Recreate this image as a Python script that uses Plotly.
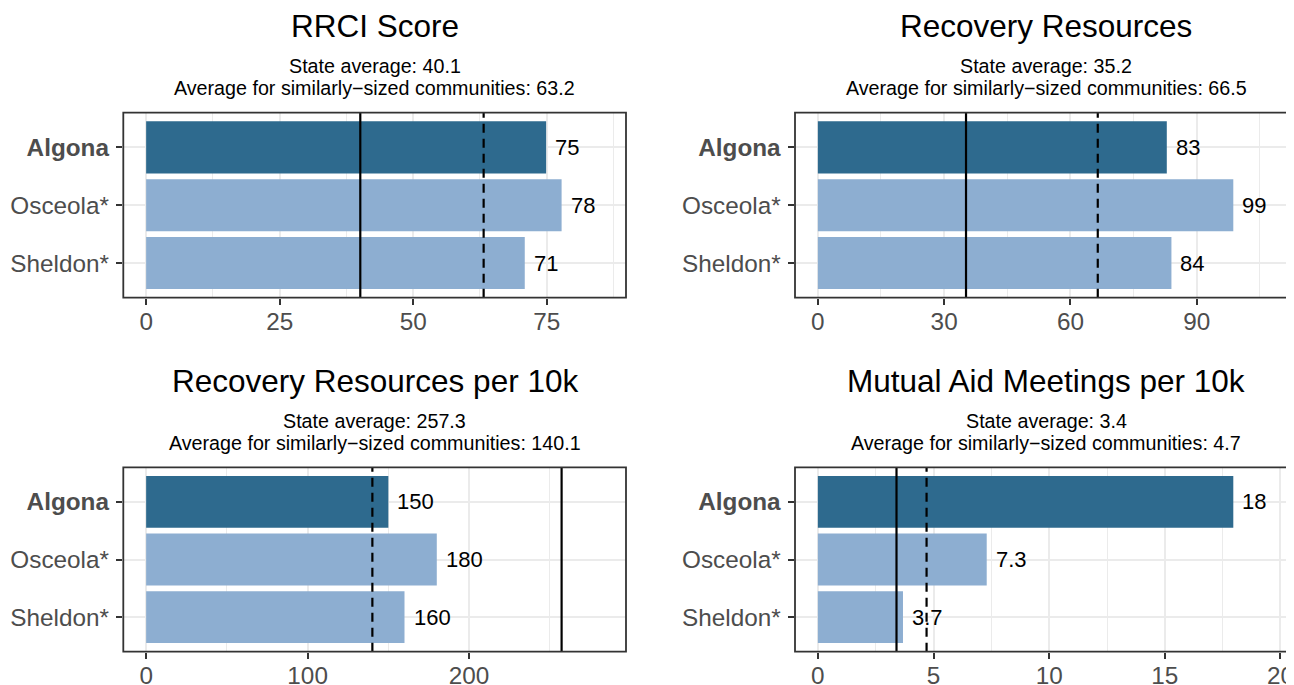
import math
import plotly.graph_objects as go

# ---------------- data ----------------
communities = ["Algona", "Osceola*", "Sheldon*"]
highlight = "Algona"
panel_titles = ["RRCI Score", "Recovery Resources",
                "Recovery Resources per 10k", "Mutual Aid Meetings per 10k"]
rrci_score = [74.9, 77.8, 70.9]
recovery_resources = [82.9, 98.7, 84.0]
resources_per_10k = [150, 180, 160]
meetings_per_10k = [17.96, 7.3, 3.68]
state_avg = [40.1, 35.2, 257.3, 3.4]
similar_avg = [63.2, 66.5, 140.1, 4.7]
x_tick_step = [25, 30, 100, 5]

panel_values = [rrci_score, recovery_resources, resources_per_10k, meetings_per_10k]

# ---------------- style / layout ----------------
W, H = 1294, 685
OFF = 8  # the page body has an 8px margin; positions below are window pixels
FONT = "Liberation Sans, Arial, Helvetica, sans-serif"
DARK = "#2E6A8E"
LIGHT = "#8DAED1"
GRID = "#EBEBEB"
AXC = "#333333"
TXT = "#4D4D4D"

col_left = [123.3, 795.0]
panel_w = 502.7
row_top = [112.7, 467.3]
row_h = [185.0, 184.4]


def signif_label(v, digits=2):
    if v == 0:
        return "0"
    p = digits - 1 - int(math.floor(math.log10(abs(v))))
    r = round(v, p)
    if float(r).is_integer():
        return str(int(r))
    return f"{r:.{max(p, 0)}f}"


fig = go.Figure()
layout = dict(
    width=W, height=H, autosize=False,
    margin=dict(l=0, r=0, t=0, b=0),
    paper_bgcolor="white", plot_bgcolor="white",
    showlegend=False, font=dict(family=FONT),
)
annotations = []
shapes = []

n = len(communities)
ypos = [n - 1 - i for i in range(n)]

for k in range(4):
    r, c = divmod(k, 2)
    idx = "" if k == 0 else str(k + 1)
    xa, ya = "x" + idx, "y" + idx
    vals = panel_values[k]

    left = col_left[c] - OFF
    vis_right = min(left + panel_w, W)
    vis_w = vis_right - left
    top = row_top[r] - OFF
    bottom = top + row_h[r]

    L = 1.1 * max(vals + [state_avg[k], similar_avg[k]])
    lo, hi_full = -0.05 * L, 1.05 * L
    hi = lo + (hi_full - lo) * (vis_w / panel_w)

    fig.add_trace(go.Bar(
        x=vals, y=ypos, orientation="h", width=0.9,
        marker=dict(color=[DARK if cname == highlight else LIGHT for cname in communities],
                    line=dict(width=0)),
        xaxis=xa, yaxis=ya, hoverinfo="skip",
    ))

    step = x_tick_step[k]
    layout["xaxis" + idx] = dict(
        domain=[left / W, vis_right / W], anchor=ya,
        range=[lo, hi], tick0=0, dtick=step,
        showgrid=True, gridcolor=GRID, gridwidth=1.7,
        minor=dict(showgrid=True, gridcolor=GRID, gridwidth=0.9, dtick=step / 2, tick0=0),
        zeroline=False, showline=False,
        ticks="outside", ticklen=6.5, tickwidth=2, tickcolor=AXC,
        ticklabelstandoff=-4,
        tickfont=dict(size=24.3, color=TXT, family=FONT),
        fixedrange=True,
    )
    layout["yaxis" + idx] = dict(
        domain=[1 - bottom / H, 1 - top / H], anchor=xa,
        range=[-0.6, n - 0.4],
        tickmode="array", tickvals=ypos,
        ticktext=[f"<b>{cname}</b>" if cname == highlight else cname for cname in communities],
        showgrid=True, gridcolor=GRID, gridwidth=1.7,
        zeroline=False, showline=False,
        ticks="outside", ticklen=6.5, tickwidth=2, tickcolor=AXC,
        ticklabelstandoff=2,
        tickfont=dict(size=24.3, color=TXT, family=FONT),
        fixedrange=True,
    )

    # value labels
    for v, y in zip(vals, ypos):
        annotations.append(dict(
            x=v, y=y, xref=xa, yref=ya, text=signif_label(v),
            xanchor="left", yanchor="middle", xshift=7, showarrow=False,
            font=dict(size=22, color="black", family=FONT),
        ))

    # reference lines
    shapes.append(dict(type="line", xref=xa, yref=ya + " domain",
                       x0=state_avg[k], x1=state_avg[k], y0=0, y1=1,
                       line=dict(color="black", width=2.2), layer="above"))
    shapes.append(dict(type="line", xref=xa, yref=ya + " domain",
                       x0=similar_avg[k], x1=similar_avg[k], y0=0, y1=1,
                       line=dict(color="black", width=2.2, dash="9px,6px"), layer="above"))
    # panel border
    shapes.append(dict(type="rect", xref=xa + " domain", yref=ya + " domain",
                       x0=0, x1=panel_w / vis_w, y0=0, y1=1,
                       line=dict(color=AXC, width=1.8), fillcolor="rgba(0,0,0,0)", layer="above"))

    # titles
    cx = (left + panel_w / 2) / W
    title_base = top - 75.4
    annotations.append(dict(
        x=cx, y=1 - (title_base - 11.0) / H, xref="paper", yref="paper",
        text=panel_titles[k], showarrow=False, xanchor="center", yanchor="middle",
        font=dict(size=31.5, color="black", family=FONT),
    ))
    sub_lines = [f"State average: {state_avg[k]}",
                 f"Average for similarly\u2212sized communities: {similar_avg[k]}"]
    for j, line in enumerate(sub_lines):
        base = title_base + 36.0 + j * 21.7
        annotations.append(dict(
            x=cx, y=1 - (base - 6.9) / H, xref="paper", yref="paper",
            text=line, showarrow=False, xanchor="center", yanchor="middle",
            font=dict(size=19.7, color="black", family=FONT),
        ))

layout["annotations"] = annotations
layout["shapes"] = shapes
fig.update_layout(**layout)
fig.write_html("out.html")
